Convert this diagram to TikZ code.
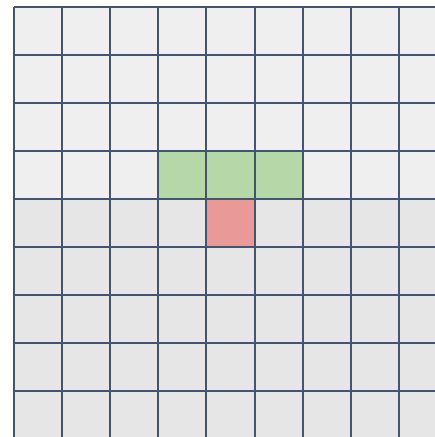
\documentclass[tikz,border=0pt]{standalone}
\definecolor{topfill}{HTML}{EFEFEF}
\definecolor{botfill}{HTML}{E6E6E6}
\definecolor{cellgreen}{HTML}{B6D7A8}
\definecolor{cellred}{HTML}{EA9999}
\definecolor{gridline}{HTML}{44546A}
\begin{document}
\begin{tikzpicture}[x=1pt,y=-1pt,
  gridstyle/.style={draw=gridline,line width=2pt}]
\useasboundingbox (0,0) rectangle (435,437);
\fill[white] (0,0) rectangle (435,437);
\fill[topfill] (14,7) rectangle (435,199);
\fill[botfill] (14,199) rectangle (435,437);
\fill[cellgreen] (159,151) rectangle (303,199);
\fill[cellred] (207,199) rectangle (255,247);
\foreach \i in {0,...,8} {
  \draw[gridstyle] ({14+48.1*\i},7) -- ({14+48.1*\i},437);
  \draw[gridstyle] (14,{7+48.05*\i}) -- (435,{7+48.05*\i});
}
\end{tikzpicture}
\end{document}
